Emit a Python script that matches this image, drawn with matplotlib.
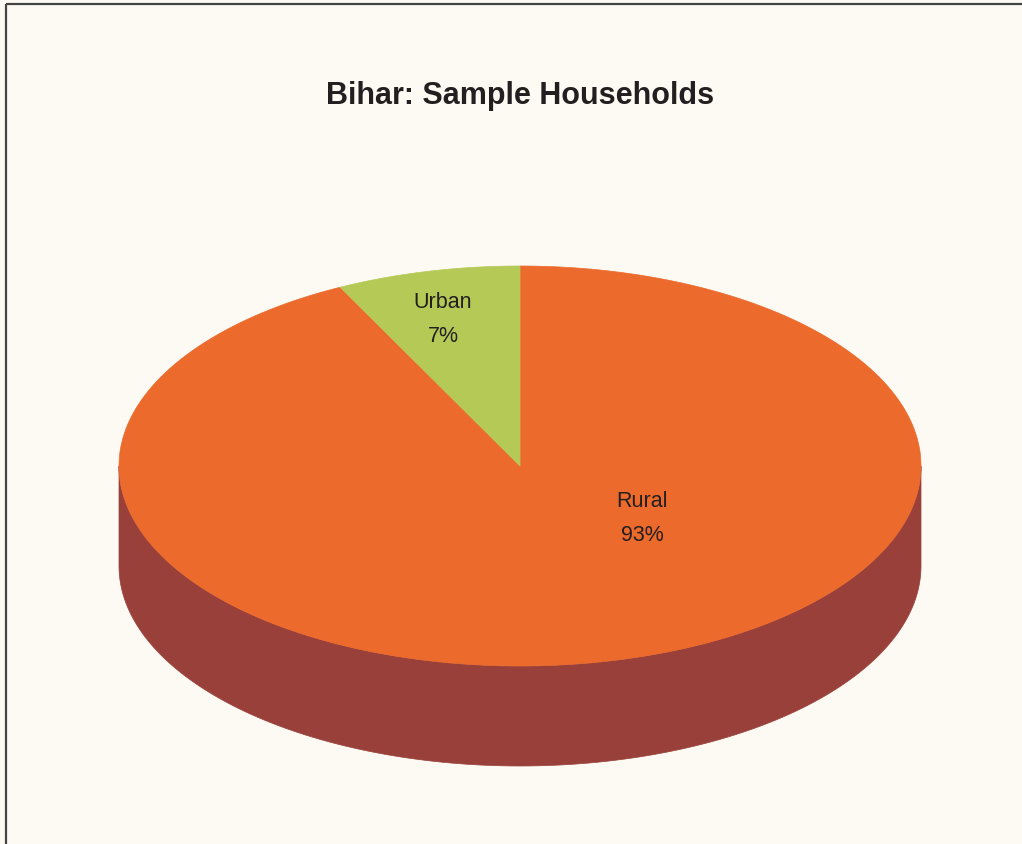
import numpy as np
import matplotlib
matplotlib.use("Agg")
import matplotlib.pyplot as plt
from matplotlib.patches import Polygon

# ---- data ----
categories = ["Rural", "Urban"]
values = [92.6, 7.4]
pct_labels = ["93%", "7%"]

# ---- style / layout ----
W, H = 1022, 845
bg = "#FDFAF3"
top_colors = ["#EC6A2C", "#B5C957"]
side_colors = ["#99403A", "#7E8F3A"]
text_color = "#231F20"
cx, cy, rx, ry, depth = 520, 467, 401, 200, 100
label_xy = [(642, 519), (443, 320)]
FONT = ["Liberation Sans", "DejaVu Sans"]

fig = plt.figure(figsize=(W / 100, H / 100), dpi=100, facecolor=bg)
ax = fig.add_axes([0, 0, 1, 1])
ax.set_xlim(0, W)
ax.set_ylim(H, 0)
ax.axis("off")
ax.set_facecolor(bg)

# border lines (top and left)
ax.plot([6, W], [5, 5], color="#444444", lw=1.6, solid_capstyle="butt")
ax.plot([6, 6], [5, H], color="#444444", lw=1.6, solid_capstyle="butt")

# slice angles: clockwise from 12 o'clock
fracs = np.array(values) / np.sum(values)
starts = 90 - 360 * np.concatenate([[0], np.cumsum(fracs)[:-1]])
ends = starts - 360 * fracs

def pt(t, dz=0.0):
    t = np.radians(t)
    return cx + rx * np.cos(t), cy - ry * np.sin(t) + dz

# side walls (front half only)
for i in range(len(values)):
    a0, a1 = ends[i], starts[i]
    for lo, hi in [(-180, 0), (180, 360), (-540, -360)]:
        s, e = max(a0, lo), min(a1, hi)
        if e > s:
            ts = np.linspace(s, e, 200)
            topx, topy = pt(ts)
            botx, boty = pt(ts[::-1], depth)
            poly = np.column_stack([np.concatenate([topx, botx]),
                                    np.concatenate([topy, boty])])
            ax.add_patch(Polygon(poly, closed=True, facecolor=side_colors[i],
                                 edgecolor=side_colors[i], lw=0.5))

# top faces
for i in range(len(values)):
    ts = np.linspace(starts[i], ends[i], 400)
    x, y = pt(ts)
    poly = np.column_stack([np.concatenate([[cx], x]), np.concatenate([[cy], y])])
    ax.add_patch(Polygon(poly, closed=True, facecolor=top_colors[i],
                         edgecolor=top_colors[i], lw=0.5))

# labels
for i, (lx, ly) in enumerate(label_xy):
    ax.text(lx, ly - 17, categories[i], ha="center", va="center",
            fontsize=15.5, color=text_color, family=FONT)
    ax.text(lx, ly + 17, pct_labels[i], ha="center", va="center",
            fontsize=15.5, color=text_color, family=FONT)

ax.text(520, 96, "Bihar: Sample Households", ha="center", va="center",
        fontsize=22, fontweight="bold", color=text_color, family=FONT)

fig.savefig("out.png", dpi=100, facecolor=bg)
